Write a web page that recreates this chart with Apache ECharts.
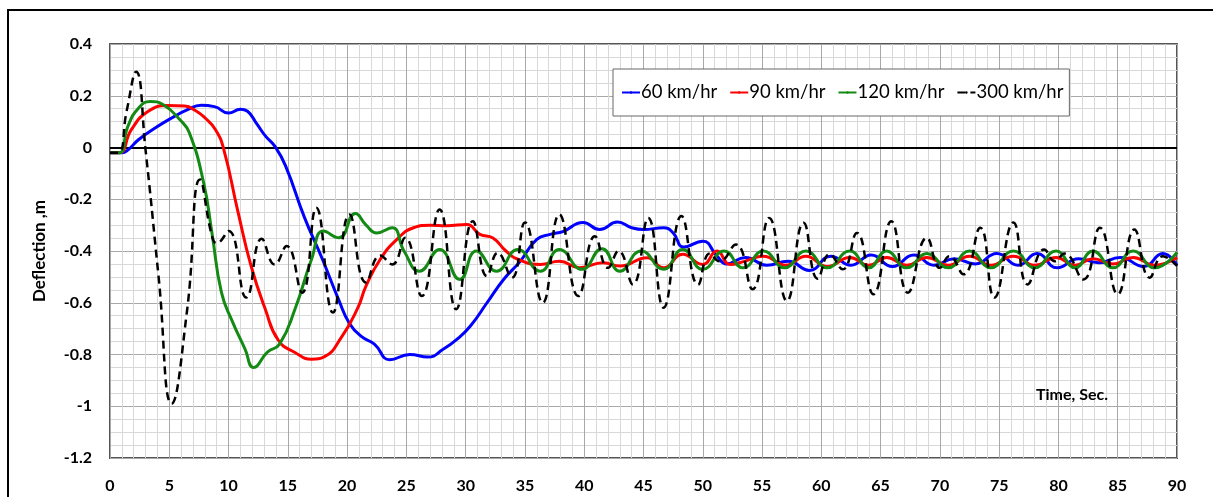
<!DOCTYPE html>
<html>
<head>
<meta charset="utf-8">
<script src="https://cdn.jsdelivr.net/npm/echarts@6/dist/echarts.min.js"></script>
<style>
  html, body { margin: 0; padding: 0; background: #fff; }
  #chart { width: 1213px; height: 497px; }
</style>
</head>
<body>
<div id="chart"></div>
<script>
// series names (legend)
var names = ['60 km/hr', '90 km/hr', '120 km/hr', '300 km/hr'];

// x tick labels: time in sec, y ticks: deflection in m
var xTicks = [0, 90, 5];
var yTicks = [-1.2, 0.4, 0.2];

// [time, deflection]
var s60 = [[0,-0.02],[1,-0.02],[1.5,-0.01],[2.4,0.03],[3.8,0.075],[5.2,0.114],[6.5,0.145],[7.7,0.163],[8.8,0.158],
  [10.0,0.133],[11.0,0.148],[11.6,0.14],[12.4,0.09],[13.1,0.045],[13.9,0.005],[14.8,-0.07],[16.4,-0.27],
  [17.9,-0.43],[19.3,-0.59],[20.2,-0.68],[21.2,-0.73],[22.3,-0.76],[23.6,-0.82],[25.3,-0.80],
  [26.8,-0.81],[28.1,-0.78],[29.3,-0.74],[30.4,-0.69],[31.8,-0.60],[33.2,-0.51],[34.6,-0.44],[36.0,-0.355],[37.2,-0.335],
  [38.2,-0.325],[39.9,-0.29],[41.3,-0.317],[42.8,-0.288],[44.0,-0.31],[45.0,-0.317],[46.7,-0.31],[47.5,-0.33],[48.4,-0.385],
  [50.0,-0.362],[51.2,-0.42],[52.0,-0.45],[53.6,-0.425],[55.4,-0.455],[57.2,-0.44],[59.0,-0.475],[60.8,-0.42],[62.5,-0.455],
  [64.2,-0.415],[66.0,-0.46],[67.8,-0.415],[69.5,-0.455],[71.2,-0.43],[73.0,-0.45],[74.8,-0.41],[76.6,-0.455],[78.2,-0.41],
  [79.9,-0.465],[81.7,-0.43],[83.4,-0.445],[85.2,-0.425],[87.2,-0.46],[88.8,-0.41],[90,-0.455]];

var s90 = [[0,-0.02],[0.8,-0.02],[1.8,0.069],[3.2,0.139],[4.9,0.162],[6.3,0.16],[7.2,0.143],[8.0,0.115],
  [8.9,0.069],[9.6,-0.008],[10.8,-0.25],[11.9,-0.458],[13.1,-0.625],[14.2,-0.745],[15.6,-0.792],
  [17.0,-0.818],[18.1,-0.808],[19.5,-0.735],[20.9,-0.62],[21.6,-0.535],[22.8,-0.432],[24.2,-0.355],[25.6,-0.31],
  [27.0,-0.30],[28.4,-0.302],[30.1,-0.298],[31.2,-0.336],[32.3,-0.35],[33.4,-0.40],[34.3,-0.43],[36.3,-0.452],[37.9,-0.44],
  [39.6,-0.465],[41.6,-0.445],[43.0,-0.458],[45.3,-0.426],[46.7,-0.465],[48.3,-0.413],[50.0,-0.452],[51.2,-0.40],[52.3,-0.452],
  [53.5,-0.44],[55.1,-0.42],[57.0,-0.455],[58.7,-0.42],[60.5,-0.46],[62.4,-0.425],[64.0,-0.455],[65.5,-0.425],[67.2,-0.455],
  [68.9,-0.425],[70.7,-0.455],[72.5,-0.42],[74.3,-0.455],[76.2,-0.42],[78.0,-0.455],[79.8,-0.425],[81.4,-0.455],[82.9,-0.43],
  [84.6,-0.45],[86.3,-0.425],[88.1,-0.455],[90,-0.425]];

var s120 = [[0,-0.02],[0.8,-0.02],[1.5,0.081],[2.4,0.152],[3.4,0.178],[4.5,0.165],[5.9,0.107],[6.7,0.056],
  [7.9,-0.137],[8.6,-0.33],[9.4,-0.56],[10.3,-0.67],[11.4,-0.78],[12.1,-0.85],[13.3,-0.79],[14.3,-0.76],
  [15.6,-0.625],[17.0,-0.432],[18.0,-0.323],[19.3,-0.349],[20.7,-0.255],[21.6,-0.30],[22.5,-0.33],
  [23.8,-0.31],[24.8,-0.40],[26.1,-0.478],[27.8,-0.394],[29.5,-0.51],[30.9,-0.40],[32.6,-0.478],[34.4,-0.394],[36.3,-0.478],
  [37.9,-0.394],[39.8,-0.471],[41.5,-0.391],[43.0,-0.478],[44.8,-0.40],[46.7,-0.471],[48.3,-0.394],[50.0,-0.471],[51.8,-0.40],
  [53.4,-0.465],[55.1,-0.40],[56.9,-0.465],[58.7,-0.40],[60.5,-0.465],[62.4,-0.40],[64.0,-0.465],[65.5,-0.40],[67.2,-0.465],
  [68.9,-0.41],[70.7,-0.465],[72.5,-0.40],[74.3,-0.465],[76.2,-0.40],[78.0,-0.465],[79.8,-0.40],[81.4,-0.465],[82.9,-0.40],
  [84.6,-0.465],[86.3,-0.40],[88.1,-0.465],[90,-0.405]];

var s300 = [[0,-0.02],[0.7,-0.02],[1.4,0.14],[2.2,0.293],[3.0,-0.01],[4.1,-0.5],[5.2,-0.99],
  [6.5,-0.63],[7.6,-0.124],[8.6,-0.343],[9.0,-0.37],[10.0,-0.323],[11.5,-0.58],
  [12.8,-0.353],[13.9,-0.452],[14.9,-0.381],[16.2,-0.561],[17.4,-0.233],[18.8,-0.638],[20.2,-0.259],[21.6,-0.522],
  [22.8,-0.417],[23.8,-0.452],[24.9,-0.349],[26.3,-0.574],[27.8,-0.24],[29.2,-0.625],[30.6,-0.285],[31.8,-0.497],[32.7,-0.407],
  [33.9,-0.503],[35.0,-0.29],[36.5,-0.60],[37.9,-0.259],[39.5,-0.574],[40.9,-0.343],[42.0,-0.465],[42.9,-0.40],[44.1,-0.529],
  [45.4,-0.272],[46.7,-0.619],[48.2,-0.265],[49.6,-0.53],[50.6,-0.41],[51.4,-0.44],[52.8,-0.375],[54.2,-0.548],[55.6,-0.272],
  [57.1,-0.593],[58.5,-0.291],[59.7,-0.507],[60.7,-0.413],[61.8,-0.471],[63.0,-0.33],[64.4,-0.567],[65.9,-0.285],[67.3,-0.561],
  [68.9,-0.349],[70.0,-0.465],[70.8,-0.42],[72.0,-0.49],[73.4,-0.31],[74.6,-0.58],[76.2,-0.29],[77.4,-0.529],[78.8,-0.394],
  [79.7,-0.44],[80.5,-0.41],[82.1,-0.51],[83.5,-0.31],[85.0,-0.567],[86.4,-0.317],[87.7,-0.503],[88.8,-0.42],[90,-0.458]];

var colors = ['#0000ff', '#ff0000', '#138a13', '#000000'];
var font = 'Lato, "Open Sans", sans-serif';

var chart = echarts.init(document.getElementById('chart'));

function line(name, data, color, dashed) {
    return {
        name: name,
        type: 'line',
        data: data,
        symbol: 'none',
        smooth: 0.5,
        lineStyle: { color: color, width: dashed ? 2.5 : 3, type: dashed ? [8, 5] : 'solid' },
        itemStyle: { color: color },
        z: 3
    };
}

var series = [
    line(names[0], s60, colors[0]),
    line(names[1], s90, colors[1]),
    line(names[2], s120, colors[2]),
    line(names[3], s300, colors[3], true)
];
// zero line
series[0].markLine = {
    silent: true,
    symbol: 'none',
    label: { show: false },
    lineStyle: { color: '#000', width: 2, type: 'solid' },
    data: [{ yAxis: 0 }],
    z: 2
};

var option = {
    animation: false,
    backgroundColor: '#fff',
    grid: {
        left: 110, right: 36, top: 44, bottom: 39,
        show: true, borderColor: '#555', borderWidth: 2, backgroundColor: 'transparent'
    },
    legend: {
        data: names,
        left: 613, top: 69,
        padding: [14, 6, 14, 8],
        itemGap: 12,
        itemWidth: 18,
        itemHeight: 3,
        backgroundColor: '#fff',
        borderColor: '#666',
        borderWidth: 1,
        textStyle: { fontFamily: font, fontSize: 18.5, color: '#000', padding: [0, 0, 0, -4] }
    },
    xAxis: {
        type: 'value',
        min: xTicks[0], max: xTicks[1], interval: xTicks[2],
        axisLine: { show: false },
        axisTick: { show: false },
        axisLabel: { fontFamily: font, fontWeight: 'bold', fontSize: 16, color: '#000', margin: 20 },
        splitLine: { show: true, lineStyle: { color: '#a8a8a8', width: 1 } },
        minorTick: { show: false, splitNumber: 5 },
        minorSplitLine: { show: true, lineStyle: { color: '#d8d8d8', width: 1 } }
    },
    yAxis: {
        type: 'value',
        min: yTicks[0], max: yTicks[1], interval: yTicks[2],
        name: 'Deflection ,m',
        nameLocation: 'middle',
        nameGap: 62,
        nameTextStyle: { fontFamily: font, fontWeight: 'bold', fontSize: 17, color: '#000' },
        axisLine: { show: false },
        axisTick: { show: false },
        axisLabel: {
            fontFamily: font, fontWeight: 'bold', fontSize: 16, color: '#000', margin: 18,
            formatter: function (v) { return String(Math.round(v * 10) / 10); }
        },
        splitLine: { show: true, lineStyle: { color: '#a8a8a8', width: 1 } },
        minorTick: { show: false, splitNumber: 4 },
        minorSplitLine: { show: true, lineStyle: { color: '#d8d8d8', width: 1 } }
    },
    graphic: [
        {
            type: 'rect',
            shape: { x: 8, y: 10, width: 1210, height: 500 },
            style: { fill: null, stroke: '#000', lineWidth: 2 },
            silent: true
        },
        {
            type: 'text',
            right: 1213 - 1108, top: 387,
            style: { text: 'Time, Sec.', font: 'bold 16px ' + font, fill: '#000' },
            z: 10
        }
    ],
    series: series
};

chart.setOption(option);
</script>
</body>
</html>
